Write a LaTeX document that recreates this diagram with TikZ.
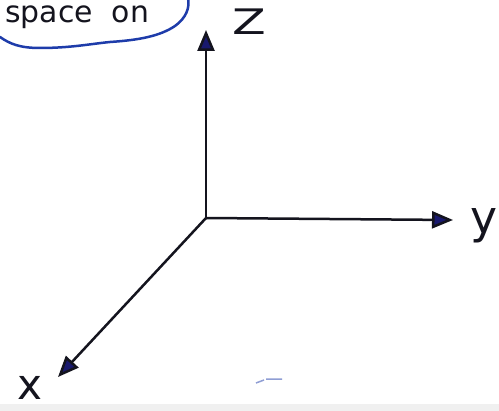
\documentclass[tikz,border=0pt]{standalone}
\usepackage{fontspec}
\setmainfont{DejaVu Sans}
\usetikzlibrary{arrows.meta}
\definecolor{ink}{RGB}{20,20,30}
\definecolor{navy}{RGB}{25,25,110}
\definecolor{pen}{RGB}{30,60,170}
\tikzset{
  axis/.style={draw=ink, line width=0.05cm, -{Triangle[length=0.42cm,width=0.34cm,fill=navy]}},
  lbl/.style={text=ink, inner sep=0pt, font=\fontsize{20}{22}\selectfont},
}
\begin{document}
\begin{tikzpicture}[x=0.02cm,y=-0.02cm]
\useasboundingbox (0,0) rectangle (499,411);
\clip (0,0) rectangle (499,411);
\fill[white] (0,0) rectangle (499,411);
\fill[gray!12] (0,404) rectangle (499,411);
% cloud fragment
\draw[pen, line width=0.05cm, line cap=round] (0,37) .. controls (10,44) and (20,48) .. (40,48)
  .. controls (70,48) and (90,44) .. (110,42)
  .. controls (140,40) and (160,36) .. (175,26)
  .. controls (186,18) and (190,8) .. (188,-2);
\node[anchor=base west, text=ink, inner sep=0pt, font=\fontsize{17}{19}\selectfont] (sp) at (5,23) {space\ \ on};
% axes
\coordinate (O) at (206,218);
\coordinate (Zt) at (206,30);
\coordinate (Yt) at (453,220);
\coordinate (Xt) at (58,377);
\draw[axis] (O) -- (Zt);
\draw[axis] (O) -- (Yt);
\draw[axis] (O) -- (Xt);
\node[lbl, xscale=1.4] (zl) at (249,22) {Z};
\node[lbl, font=\fontsize{26}{28}\selectfont] (yl) at (484,226) {y};
\node[lbl, font=\fontsize{24}{26}\selectfont] (xl) at (30,388) {x};
% smudge
\draw[pen!50, line width=0.03cm] (256,383) -- (264,380) (266,379) -- (282,379);
\end{tikzpicture}
\end{document}
